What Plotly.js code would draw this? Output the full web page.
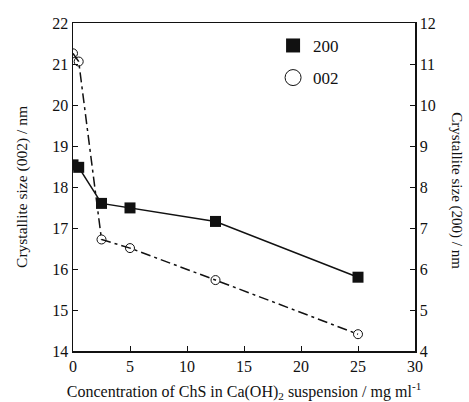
<!DOCTYPE html>
<html>
<head>
<meta charset="utf-8">
<script src="https://cdn.plot.ly/plotly-3.0.1.min.js"></script>
<style>html,body{margin:0;padding:0;background:#fff;}#chart{width:469px;height:402px;}</style>
</head>
<body>
<div id="chart"></div>
<script>
// Data
const conc = [0, 0.5, 2.5, 5, 12.5, 25];
const size200 = [8.54, 8.48, 7.6, 7.49, 7.16, 5.8];   // right axis (200)
const size002 = [21.26, 21.06, 16.72, 16.51, 15.73, 14.41]; // left axis (002)
const seriesNames = ['200', '002'];
const leftTicks = [14, 15, 16, 17, 18, 19, 20, 21, 22];
const rightTicks = [4, 5, 6, 7, 8, 9, 10, 11, 12];
const xTicks = [0, 5, 10, 15, 20, 25, 30];

const fam = 'Liberation Serif, Times New Roman, serif';
const ink = '#111';

const traces = [
  {
    x: conc, y: size200, yaxis: 'y2', name: seriesNames[0], type: 'scatter', mode: 'lines+markers',
    showlegend: false,
    line: {color: ink, width: 1.5},
    marker: {symbol: 'square', size: 11, color: ink}
  },
  {
    x: conc, y: size002, yaxis: 'y', name: seriesNames[1], type: 'scatter', mode: 'lines+markers',
    showlegend: false,
    line: {color: ink, width: 1.5, dash: '10px,4px,3px,4px'},
    marker: {symbol: 'circle-open', size: 9, color: ink, line: {width: 1}}
  },
  // legend-only entries (markers without lines, as in the reference)
  {
    x: [null], y: [null], name: seriesNames[0], type: 'scatter', mode: 'markers',
    legendgroup: 'a', marker: {symbol: 'square', size: 14, color: ink}
  },
  {
    x: [null], y: [null], name: seriesNames[1], type: 'scatter', mode: 'markers',
    legendgroup: 'b', marker: {symbol: 'circle-open', size: 16, color: ink, line: {width: 1}}
  }
];

const layout = {
  width: 469, height: 402,
  margin: {l: 73, r: 54, t: 23, b: 51},
  paper_bgcolor: '#fff', plot_bgcolor: '#fff',
  font: {family: fam, size: 15, color: ink},
  showlegend: true,
  legend: {x: 0.585, y: 0.985, xanchor: 'left', yanchor: 'top', bgcolor: 'rgba(0,0,0,0)',
           font: {family: fam, size: 17, color: ink}, traceorder: 'grouped', tracegroupgap: 7},
  xaxis: {
    range: [0, 30], tickvals: xTicks, ticks: 'inside', ticklen: 5, tickcolor: ink,
    showline: true, linecolor: ink, linewidth: 1.5, mirror: true, showgrid: false, zeroline: false,
    tickfont: {family: fam, size: 16, color: ink},
    title: {text: 'Concentration of ChS in Ca(OH)<sub>2</sub> suspension / mg ml<sup>-1</sup>',
            font: {family: fam, size: 16, color: ink}, standoff: 12}
  },
  yaxis: {
    range: [14, 22], tickvals: leftTicks, ticks: 'inside', ticklen: 5, tickcolor: ink,
    showline: true, linecolor: ink, linewidth: 1.5, showgrid: false, zeroline: false,
    tickfont: {family: fam, size: 16, color: ink},
    title: {text: 'Crystallite size (002) / nm', font: {family: fam, size: 15.5, color: ink}, standoff: 21}
  },
  yaxis2: {
    range: [4, 12], tickvals: rightTicks, ticks: 'inside', ticklen: 5, tickcolor: ink,
    overlaying: 'y', side: 'right',
    showline: true, linecolor: ink, linewidth: 1.5, showgrid: false, zeroline: false,
    tickfont: {family: fam, size: 16, color: ink}
  },
  annotations: [{
    text: 'Crystallite size (200) / nm', textangle: 90, xref: 'paper', yref: 'paper',
    x: 1, xshift: 42, y: 0.49, showarrow: false, xanchor: 'center', yanchor: 'middle',
    font: {family: fam, size: 15, color: ink}
  }]
};

Plotly.newPlot('chart', traces, layout, {displayModeBar: false, staticPlot: true});
</script>
</body>
</html>
